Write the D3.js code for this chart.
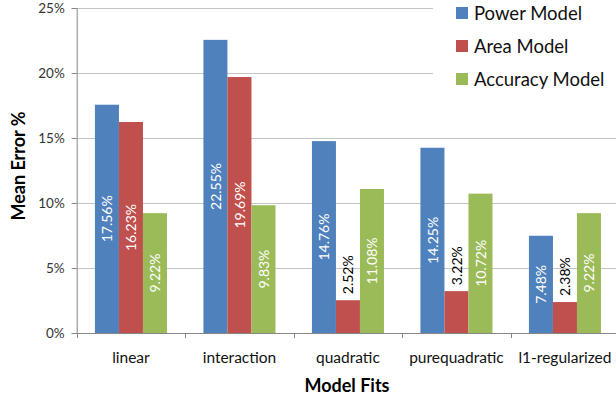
<!DOCTYPE html>
<html><head><meta charset="utf-8">
<script src="https://cdn.jsdelivr.net/npm/d3@7"></script>
<style>
body{margin:0;background:#fff;}
svg{display:block;font-family:Lato, "Open Sans", sans-serif;}
</style></head>
<body><svg id="c" width="616" height="404"></svg>
<script>
const categories = ["linear","interaction","quadratic","purequadratic","l1-regularized"];
const seriesNames = ["Power Model","Area Model","Accuracy Model"];
const powerModel = [17.56, 22.55, 14.76, 14.25, 7.48];
const areaModel = [16.23, 19.69, 2.52, 3.22, 2.38];
const accuracyModel = [9.22, 9.83, 11.08, 10.72, 9.22];
const yTicks = [0,5,10,15,20,25];
const colors = ["#4F81BD","#C0504D","#9BBB59"];

const seriesValues = [powerModel, areaModel, accuracyModel];
const svg = d3.select("#c");
const x0 = 76.7, x1 = 619.2, yTop = 8, yBot = 333;
const x = d3.scaleBand().domain(categories).range([x0, x1]).paddingInner(0).paddingOuter(0);
const bw = x.bandwidth();
const xs = d3.scaleBand().domain(seriesNames).range([bw*0.168, bw*0.832]).padding(0);
const y = d3.scaleLinear().domain([0,25]).range([yBot, yTop]);

// gridlines
svg.append("g").selectAll("line").data(yTicks.filter(d=>d>0)).join("line")
  .attr("x1", x0).attr("x2", 616).attr("y1", d=>y(d)+0.5).attr("y2", d=>y(d)+0.5)
  .attr("stroke", "#c4c4c4").attr("stroke-width", 1);

// bars
const data = [];
categories.forEach((c,i)=>seriesNames.forEach((s,j)=>data.push({c, s, j, v: seriesValues[j][i]})));
svg.append("g").selectAll("rect").data(data).join("rect")
  .attr("x", d=>x(d.c)+xs(d.s)).attr("width", xs.bandwidth())
  .attr("y", d=>y(d.v)).attr("height", d=>yBot - y(d.v))
  .attr("fill", d=>colors[d.j]);

// y axis
const yAxis = d3.axisLeft(y).tickValues(yTicks).tickFormat(d=>d+"%").tickSize(5).tickPadding(7);
const ga = svg.append("g").attr("transform", `translate(${x0},0)`).call(yAxis);
ga.select(".domain").attr("stroke", "#868686");
ga.selectAll(".tick line").attr("stroke", "#868686");
ga.selectAll("text").attr("font-size", 13.5).attr("fill", "#333").attr("font-family","Lato");

// x axis
const gx = svg.append("g").attr("transform", `translate(0,${yBot})`);
gx.append("line").attr("x1", x0).attr("x2", 616).attr("y1", 0.5).attr("y2", 0.5).attr("stroke", "#868686");
gx.selectAll("line.t").data(categories).join("line").attr("class","t")
  .attr("x1", d=>Math.round(x(d))+0.5).attr("x2", d=>Math.round(x(d))+0.5).attr("y1", 0).attr("y2", 5).attr("stroke", "#868686");
gx.selectAll("text").data(categories).join("text")
  .attr("x", d=>x(d)+bw/2).attr("y", 30).attr("text-anchor","middle")
  .attr("font-size", 15.5).attr("fill","#111").text(d=>d);

// data labels
svg.append("g").selectAll("text").data(data).join("text")
  .attr("transform", d=>{
    const cx = x(d.c)+xs(d.s)+xs.bandwidth()/2;
    const small = d.v < 5;
    const cy = small ? y(d.v) - 6 : (y(d.v)+yBot)/2;
    return `translate(${cx},${cy}) rotate(-90)`;
  })
  .attr("text-anchor", d=> d.v < 5 ? "start" : "middle")
  .attr("dominant-baseline","central")
  .attr("font-size", 14)
  .attr("fill", d=> d.v < 5 ? "#000" : "#fff")
  .text(d=>d.v.toFixed(2)+"%");

// axis titles
svg.append("text").attr("transform","translate(18,166) rotate(-90)")
  .attr("text-anchor","middle").attr("dominant-baseline","central")
  .attr("font-size",18).attr("font-weight","bold").attr("fill","#000").text("Mean Error %");
svg.append("text").attr("x", 347).attr("y", 392).attr("text-anchor","middle")
  .attr("font-size",18).attr("font-weight","bold").attr("fill","#000").text("Model Fits");

// legend
const lg = svg.append("g");
lg.append("rect").attr("x", 433).attr("y", 0).attr("width", 183).attr("height", 96).attr("fill","#fff");
const rowsY = [13, 46, 79];
seriesNames.forEach((s,i)=>{
  lg.append("rect").attr("x", 456).attr("y", rowsY[i]-6).attr("width", 12).attr("height", 12).attr("fill", colors[i]);
  lg.append("text").attr("x", 474).attr("y", rowsY[i]).attr("dominant-baseline","central")
    .attr("font-size", 18.5).attr("fill","#111").text(s);
});
</script></body></html>
